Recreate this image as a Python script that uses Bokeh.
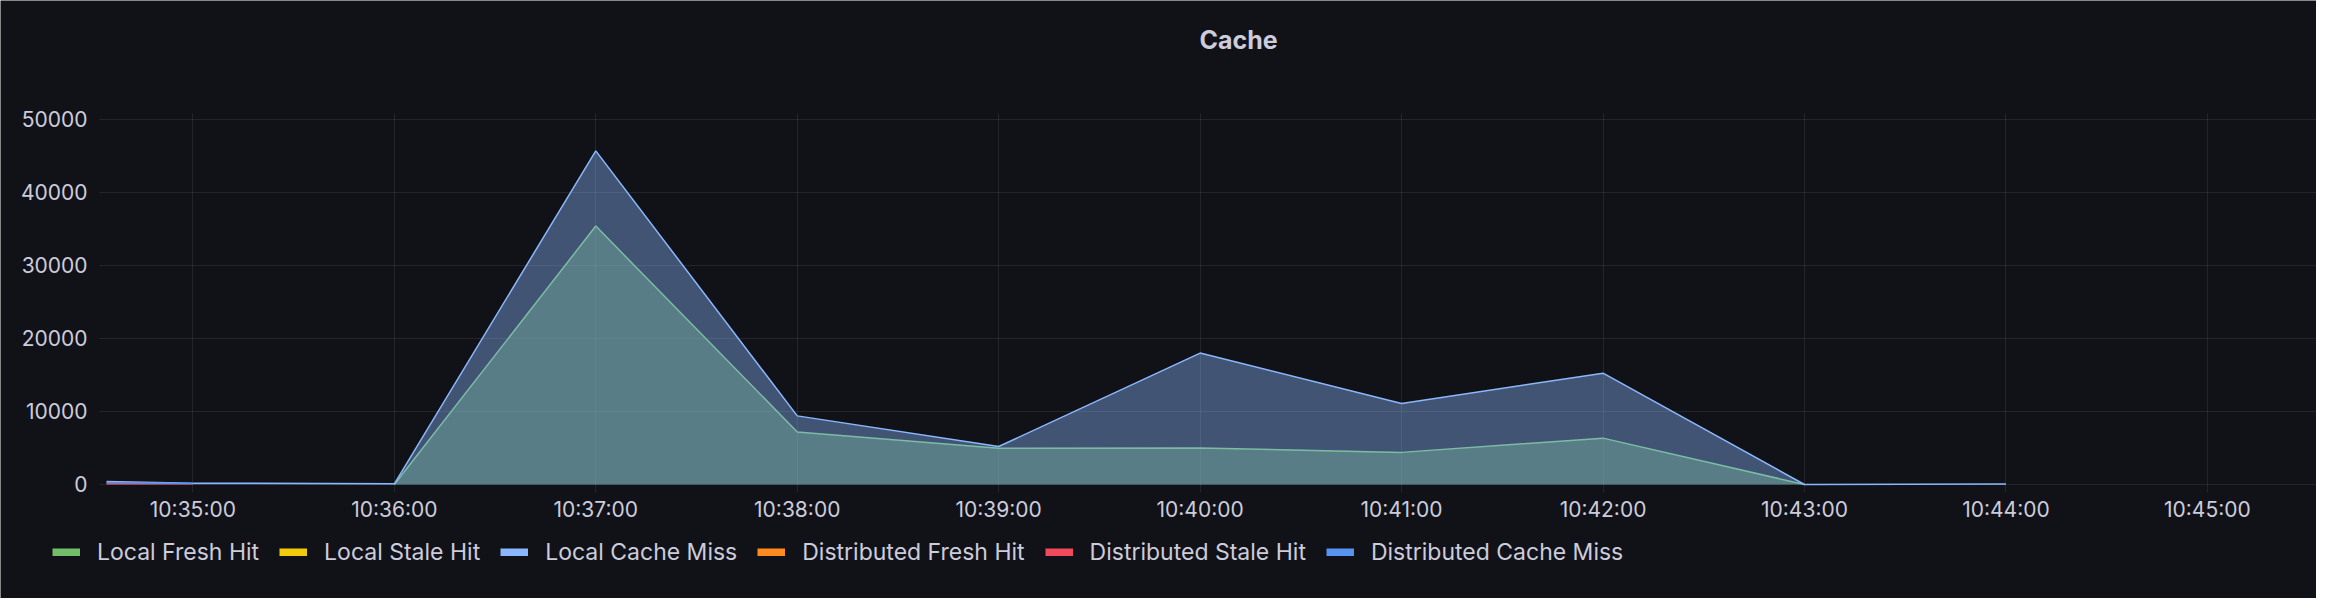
import numpy as np
import pandas as pd
from bokeh.plotting import figure
from bokeh.models import (Range1d, FixedTicker, DatetimeTickFormatter, Legend, LegendItem, Label)
from bokeh.embed import file_html
from bokeh.resources import INLINE

DAY = "2024-01-01 "
times = ["10:34:34.3", "10:35:00", "10:36:00", "10:37:00", "10:38:00", "10:39:00",
         "10:40:00", "10:41:00", "10:42:00", "10:43:00", "10:44:00"]
local_fresh_hit = [None, None, 0, 35400, 7200, 4950, 5000, 4400, 6350, 0, None]
local_stale_hit = [None] * 11
local_cache_miss = [410, 180, 100, 45700, 9400, 5200, 18000, 11100, 15250, 0, 80]
distributed_fresh_hit = [None] * 11
distributed_stale_hit = [100, 100, None, None, None, None, None, None, None, None, None]
distributed_cache_miss = [260, 140, None, None, None, None, None, None, None, None, None]

series_names = ["Local Fresh Hit", "Local Stale Hit", "Local Cache Miss",
                "Distributed Fresh Hit", "Distributed Stale Hit", "Distributed Cache Miss"]
series_colors = ["#73BF69", "#F2CC0C", "#8AB8FF", "#FF8A1F", "#F2495C", "#5794F2"]

x_tick_labels = ["10:35:00", "10:36:00", "10:37:00", "10:38:00", "10:39:00", "10:40:00",
                 "10:41:00", "10:42:00", "10:43:00", "10:44:00", "10:45:00"]
y_ticks = [0, 10000, 20000, 30000, 40000, 50000]
title_text = "Cache"

# view geometry (whole canvas is the plot frame)
x_view = ("10:34:02.7", "10:45:32.5")
y_view = (-15617, 66301)
y_top = 50820

BG = "#111217"
TXT = "#ccccdc"
GRID = "rgba(204,204,220,0.10)"
W, H = 2316, 598

def ts(s):
    return pd.Timestamp(DAY + s)

def ms(s):
    return ts(s).value / 1e6

def arr(v):
    return np.array([np.nan if a is None else a for a in v], dtype=float)

t = [ts(s).to_pydatetime() for s in times]
tick_ms = [ms(s) for s in x_tick_labels]
x0_ms, x1_ms = ms(times[0]), ms(x_view[1])

p = figure(width=W, height=H, x_axis_type="datetime",
           x_range=Range1d(ts(x_view[0]), ts(x_view[1])),
           y_range=Range1d(*y_view),
           output_backend="svg", toolbar_location=None,
           min_border_left=0, min_border_right=0, min_border_top=0, min_border_bottom=0)
p.background_fill_color = BG
p.border_fill_color = BG
p.outline_line_color = None

# axes drawn at fixed data locations inside the canvas
xt = FixedTicker(ticks=tick_ms)
yt = FixedTicker(ticks=y_ticks)
p.xaxis.ticker = xt
p.yaxis.ticker = yt
p.xaxis.fixed_location = 0
p.yaxis.fixed_location = x0_ms
fmt = "%H:%M:%S"
p.xaxis.formatter = DatetimeTickFormatter(seconds=fmt, minsec=fmt, minutes=fmt, hourmin=fmt, hours=fmt)
for ax in (p.xaxis, p.yaxis):
    ax.major_label_text_font = "Inter"
    ax.major_label_text_font_size = "21px"
    ax.major_label_text_color = TXT
    ax.major_tick_line_color = GRID
    ax.major_tick_in = 0
    ax.minor_tick_line_color = None
    ax.axis_line_color = None
p.xaxis.major_tick_out = 8
p.xaxis.major_label_standoff = 5
p.yaxis.major_tick_out = 7
p.yaxis.major_label_standoff = 12

# grids
p.xgrid.ticker = xt
p.ygrid.ticker = yt
p.xgrid.grid_line_color = GRID
p.ygrid.grid_line_color = GRID
if "cross_bounds" in p.xgrid[0].properties():
    p.xgrid.cross_bounds = (0, y_top)
    p.ygrid.cross_bounds = (x0_ms, x1_ms)
else:
    p.xgrid.visible = False
    p.ygrid.visible = False
    p.segment(x0=tick_ms, y0=[0] * len(tick_ms), x1=tick_ms, y1=[y_top] * len(tick_ms),
              line_color=GRID, line_width=1)
    p.segment(x0=[x0_ms] * len(y_ticks), y0=y_ticks, x1=[x1_ms] * len(y_ticks), y1=y_ticks,
              line_color=GRID, line_width=1)

# series
fresh = arr(local_fresh_hit)
miss = arr(local_cache_miss)
p.varea(x=t, y1=0, y2=np.nan_to_num(fresh), fill_color=series_colors[0], fill_alpha=0.4)
p.line(x=t, y=fresh, line_color=series_colors[0], line_width=1.5)
p.varea(x=t, y1=0, y2=np.nan_to_num(miss), fill_color=series_colors[2], fill_alpha=0.4)
p.line(x=t, y=miss, line_color=series_colors[2], line_width=1.5)
all_series = [fresh, arr(local_stale_hit), miss, arr(distributed_fresh_hit),
              arr(distributed_stale_hit), arr(distributed_cache_miss)]
for i in (1, 3, 4, 5):
    p.line(x=t, y=all_series[i], line_color=series_colors[i], line_width=1.5)

# title
p.add_layout(Label(x=1238, y=H - 39.3, x_units="screen", y_units="screen", text=title_text,
                   text_align="center", text_baseline="alphabetic", text_font="Inter",
                   text_font_size="25px", text_font_style="bold", text_color=TXT))

# legend (swatch renderers are hidden copies of each series)
items = []
for name, c, ys in zip(series_names, series_colors, all_series):
    r = p.line(x=t, y=ys, line_color=c, line_width=8, visible=False)
    items.append(LegendItem(label=name, renderers=[r]))
legend = Legend(items=items, orientation="horizontal", location=(52, 32),
                glyph_width=28, glyph_height=8, label_height=28, label_standoff=17, spacing=20,
                padding=0, margin=0, border_line_color=None, background_fill_alpha=0,
                inactive_fill_alpha=0,
                label_text_font="Inter", label_text_font_size="23px", label_text_color=TXT)
p.add_layout(legend, "center")

open("out.html", "w").write(file_html(p, INLINE))
